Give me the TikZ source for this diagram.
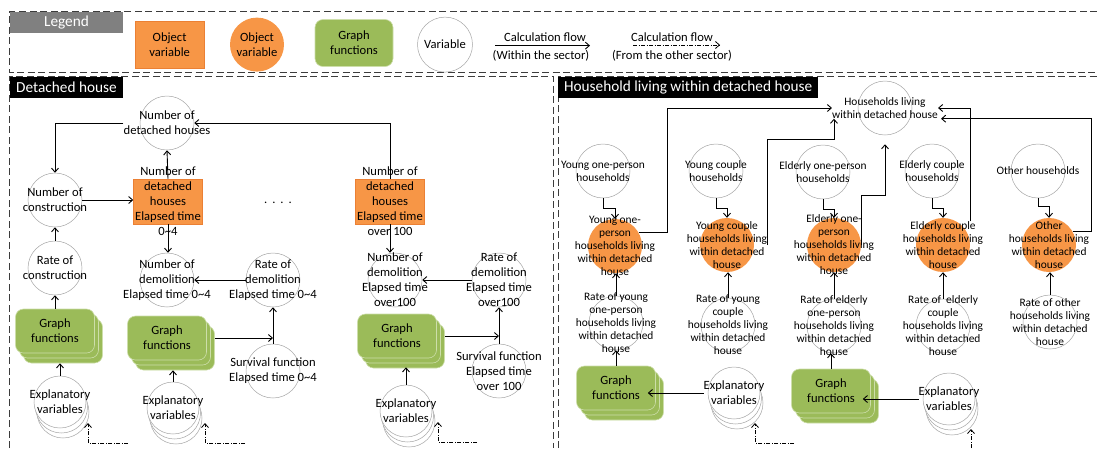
\documentclass[tikz,border=0pt]{standalone}
\usepackage{fontspec}
\setmainfont{Carlito}
\usepackage{tikz}
\usetikzlibrary{arrows.meta, positioning, calc, shadows}
\definecolor{ObjOrange}{RGB}{247,150,70}
\definecolor{ObjEdge}{RGB}{235,128,52}
\definecolor{GraphGreen}{RGB}{155,187,89}
\definecolor{GraphEdge}{RGB}{205,222,170}
\definecolor{VarGray}{RGB}{165,165,165}
\definecolor{LegendGray}{RGB}{128,128,128}
\definecolor{FrameGray}{RGB}{60,60,60}

\begin{document}
\begin{tikzpicture}[
    x=1pt, y=-1pt,
    font=\fontsize{12.6}{15}\selectfont,
    var/.style={circle, draw=VarGray, line width=0.5pt, fill=white, minimum size=54pt, inner sep=0pt},
    expvar/.style={var, minimum size=52pt,
        copy shadow={shadow xshift=3pt, shadow yshift=-10pt, fill=white, draw=VarGray},
        copy shadow={shadow xshift=1.5pt, shadow yshift=-5pt, fill=white, draw=VarGray}},
    objcirc/.style={circle, fill=ObjOrange, minimum size=54pt, inner sep=0pt, align=center},
    objbox/.style={rectangle, fill=ObjOrange, draw=ObjEdge, line width=0.5pt, minimum width=69pt, minimum height=45pt, inner sep=0pt, align=center},
    vtext/.style={align=center, inner sep=0pt},
    hhtext/.style={vtext, font=\fontsize{11.4}{13}\selectfont},
    gfbox/.style={rectangle, rounded corners=8pt, fill=GraphGreen, draw=GraphEdge, line width=0.6pt, minimum width=79pt, minimum height=44pt, align=center, inner sep=0pt},
    gfstack/.style={gfbox,
        copy shadow={shadow xshift=8pt, shadow yshift=-10pt, fill=GraphGreen, draw=GraphEdge},
        copy shadow={shadow xshift=4pt, shadow yshift=-5pt, fill=GraphGreen, draw=GraphEdge}},
    header/.style={rectangle, fill=black, text=white, font=\fontsize{15.3}{18}\selectfont, anchor=north west, minimum height=21pt, inner sep=0pt},
    frame/.style={dash pattern=on 7pt off 3.5pt, line width=0.8pt, draw=FrameGray},
    flow/.style={-{Straight Barb[length=4pt, width=7pt]}, line width=0.9pt},
    extflow/.style={-{Straight Barb[length=4pt, width=7pt]}, line width=0.8pt, dash pattern=on 4pt off 1.5pt on 1pt off 1.5pt}
]
    \useasboundingbox (0,0) rectangle (1097,448);

    % Legend
    \draw[frame] (1097,11.6) -- (9.8,11.6) -- (9.8,72) -- (1097,72);
    \node[header, fill=LegendGray, minimum width=113pt] (legend) at (9.8,11.6) {Legend};
    \node[objbox, minimum height=47pt] (lg-box) at (169.6,44.6) {Object\\variable};
    \node[objcirc] (lg-circ) at (257,44.6) {Object\\variable};
    \node[gfbox, minimum width=78pt, minimum height=47pt] (lg-gf) at (354,43) {Graph\\functions};
    \node[var, minimum size=55pt] (lg-var) at (445,44.6) {Variable};
    \node (lg-in) at (545,37) {Calculation flow};
    \node (lg-in2) at (541,56) {(Within the sector)};
    \coordinate (lg-a) at (495,45.6);
    \coordinate (lg-b) at (590,45.6);
    \draw[flow] (lg-a) -- (lg-b);
    \node (lg-ext) at (672,37) {Calculation flow};
    \node (lg-ext2) at (672,56) {(From the other sector)};
    \coordinate (lg-c) at (633,45);
    \coordinate (lg-d) at (720,45);
    \draw[extflow] (lg-c) -- (lg-d);

    % Panels
    \draw[frame] (9.8,448) -- (9.8,76.5) -- (553,76.5) -- (553,448);
    \draw[frame] (558,448) -- (558,76.5) -- (1097,76.5);
    \node[header, minimum width=113pt] (dh) at (9.8,76.5) {Detached house};
    \node[header, minimum width=260pt] (hh) at (558,76.5) {Household living within detached house};

    % Detached house
    \node[var, label={[vtext, name=ndh-t]center:{Number of\\detached houses}}] (ndh) at (167,123) {};
    \node[var, label={[vtext]center:{Number of\\construction}}] (ncon) at (55,200) {};
    \node[objbox, label={[vtext]center:{Number of\\detached\\houses\\Elapsed time\\0\textasciitilde4}}] (age1) at (168,201.5) {};
    \node[var, label={[vtext]center:{Rate of\\construction}}] (rcon) at (55,268) {};
    \node[gfstack] (gf1) at (55,331) {Graph\\functions};
    \node[expvar, label={[vtext]center:{Explanatory\\variables}}] (ev1) at (60,402) {};

    \node[var, label={[vtext]center:{Number of\\demolition\\Elapsed time 0\textasciitilde4}}] (ndem1) at (167,280) {};
    \node[var, label={[vtext]center:{Rate of\\demolition\\Elapsed time 0\textasciitilde4}}] (rdem1) at (273,280) {};
    \node[gfstack] (gf2) at (167,338) {Graph\\functions};
    \node[var, label={[vtext]center:{Survival function\\Elapsed time 0\textasciitilde4}}] (sf1) at (273,371) {};
    \node[expvar, label={[vtext]center:{Explanatory\\variables}}] (ev2) at (173,408) {};

    \node (dots) at (278,203) {.\hspace{5pt}.\hspace{5pt}.\hspace{5pt}.};

    \node[objbox, label={[vtext]center:{Number of\\detached\\houses\\Elapsed time\\over 100}}] (age2) at (390,201.5) {};
    \node[var, label={[vtext]center:{Number of\\demolition\\Elapsed time\\over100}}] (ndem2) at (395,280) {};
    \node[var, label={[vtext]center:{Rate of\\demolition\\Elapsed time\\over100}}] (rdem2) at (499,280) {};
    \node[gfstack] (gf3) at (397,336) {Graph\\functions};
    \node[var, label={[vtext]center:{Survival function\\Elapsed time\\over 100}}] (sf2) at (499,371) {};
    \node[expvar, label={[vtext]center:{Explanatory\\variables}}] (ev3) at (406,411) {};

    \draw[flow] (age1.north) -- (ndh.south);
    \draw[flow] (age2.north) |- (ndh.east);
    \draw[flow] (ndh-t.west) -| (ncon.north);
    \draw[flow] (ncon.east) -- (ncon.east -| age1.west);
    \draw[flow] (rcon) -- (ncon);
    \draw[flow] (gf1) -- (rcon);
    \draw[flow] (ev1.north) -- ($(ev1.north |- gf1.south)+(0,10)$);
    \draw[flow] (age1.south) -- (age1.south |- ndem1.north);
    \draw[flow] (rdem1.west) -- (ndem1.east);
    \draw[flow] (sf1.north) -- (rdem1.south);
    \draw[flow, shorten <=8pt] (gf2.east) -- (gf2.east -| sf1.north);
    \draw[flow] (ev2.north) -- ($(ev2.north |- gf2.south)+(0,10)$);
    \draw[flow] (age2.south) -- (age2.south |- ndem2.north);
    \draw[flow] (rdem2.west) -- (ndem2.east);
    \draw[flow] (sf2.north) -- (rdem2.south);
    \draw[flow, shorten <=8pt] (gf3.east) -- (gf3.east -| sf2.north);
    \draw[flow] (ev3.north) -- ($(ev3.north |- gf3.south)+(0,9)$);

    \coordinate (in1) at (128,443);
    \draw[extflow] (in1) -| ($(ev1)+(28,21)$);
    \coordinate (in2) at (245,443);
    \draw[extflow] (in2) -| ($(ev2)+(32,15)$);
    \coordinate (in3) at (477,442);
    \draw[extflow] (in3) -| ($(ev3)+(32,11)$);

    % Household living within detached house
    \node[var, label={[hhtext, name=hlw-t]center:{Households living\\within detached house}}] (hlw) at (885,108) {};

    \node[var, label={[hhtext]center:{Young one-person\\households}}] (yop) at (603,171) {};
    \node[var, label={[hhtext]center:{Young couple\\households}}] (yc) at (716,171) {};
    \node[var, label={[hhtext]center:{Elderly one-person\\households}}] (eop) at (823,172) {};
    \node[var, label={[hhtext]center:{Elderly couple\\households}}] (ec) at (932,171) {};
    \node[var, label={[hhtext]center:{Other households}}] (oh) at (1038,171) {};

    \node[objcirc, label={[hhtext]center:{Young one-\\person\\households living\\within detached\\house}}] (yopd) at (615,246) {};
    \node[objcirc, label={[hhtext, name=ycd-t]center:{Young couple\\households living\\within detached\\house}}] (ycd) at (727,245) {};
    \node[objcirc, label={[hhtext]center:{Elderly one-\\person\\households living\\within detached\\house}}] (eopd) at (834,245) {};
    \node[objcirc, label={[hhtext, name=ecd-t]center:{Elderly couple\\households living\\within detached\\house}}] (ecd) at (943,245) {};
    \node[objcirc, label={[hhtext]center:{Other\\households living\\within detached\\house}}] (ohd) at (1049,245) {};

    \node[var, label={[hhtext]center:{Rate of young\\one-person\\households living\\within detached\\house}}] (yr) at (616,323) {};
    \node[var, label={[hhtext]center:{Rate of young\\couple\\households living\\within detached\\house}}] (ycr) at (728,325) {};
    \node[var, label={[hhtext]center:{Rate of elderly\\one-person\\households living\\within detached\\house}}] (eor) at (834,326) {};
    \node[var, label={[hhtext]center:{Rate of\ \ elderly\\couple\\households living\\within detached\\house}}] (ecr) at (943,326) {};
    \node[var, label={[hhtext]center:{Rate of other\\households living\\within detached\\house}}] (ohr) at (1050,322) {};

    \node[gfstack] (gfA) at (616,388) {Graph\\functions};
    \node[gfstack] (gfB) at (831,391) {Graph\\functions};
    \node[expvar, label={[vtext, name=evA-t]center:{Explanatory\\variables}}] (evA) at (734,393) {};
    \node[expvar, label={[vtext, name=evB-t]center:{Explanatory\\variables}}] (evB) at (949,399) {};

    \draw[flow] (yop.south) -- ++(0,10) -| (yopd.north);
    \draw[flow] (yc.south) -- ++(0,10) -| (ycd.north);
    \draw[flow] (eop.south) -- ++(0,10) -| (eopd.north);
    \draw[flow] (ec.south) -- ++(0,10) -| (ecd.north);
    \draw[flow] (oh.south) -- ++(0,8) -| (ohd.north);

    \draw[flow] (yopd.30) -- ++(29,0) |- (hlw-t.west);
    \draw[flow] (ycd-t.east) -- ++(0,-106) -| ($(hlw-t.south west)+(2,0)$);
    \draw[flow, shorten >=9pt] (eopd.east) -- ++(0,-50) -| (hlw.south);
    \draw[flow] (ecd-t.north -| ecd.east) |- (hlw-t.east);
    \draw[flow] (ohd.30) -- ++(19,0) |- ($(hlw-t.south east)+(3,0)$);

    \draw[flow] (yr.north) -- (yr.north |- yopd.south);
    \draw[flow] (ycr.north) -- (ycr.north |- ycd.south);
    \draw[flow] (eor.north) -- (eor.north |- eopd.south);
    \draw[flow] (ecr.north) -- (ecr.north |- ecd.south);
    \draw[flow] (ohr.north) -- (ohr.north |- ohd.south);

    \draw[flow] (gfA.north) -- (gfA.north |- yr.south);
    \draw[flow] (gfB.north) -- (gfB.north |- eor.south);
    \draw[flow, shorten >=-8pt] (evA-t.west) -- (evA-t.west -| gfA.east);
    \draw[flow, shorten >=-8pt] (evB-t.west) -- (evB-t.west -| gfB.east);

    \coordinate (inA) at (794,443);
    \draw[extflow] (inA) -| ($(evA)+(21,30)$);
    \coordinate (inB) at (971,448);
    \draw[extflow] (inB) -- ($(evB)+(22,30)$);

\end{tikzpicture}
\end{document}
